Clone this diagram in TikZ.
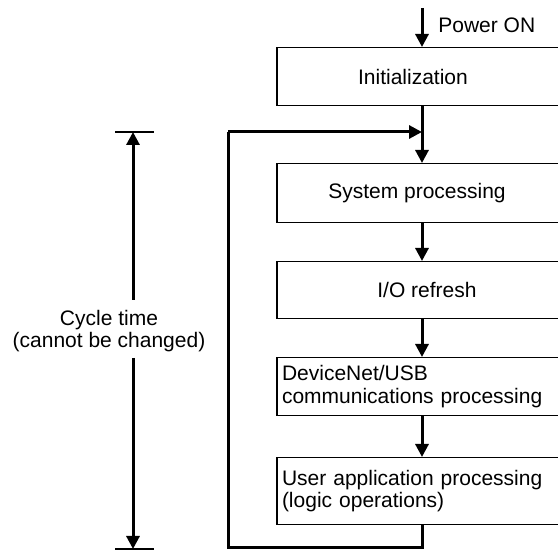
\documentclass[tikz,border=0pt]{standalone}
\usepackage{fontspec}
\setmainfont{Liberation Sans}
\usetikzlibrary{arrows.meta}
\begin{document}
\begin{tikzpicture}[x=0.5pt,y=-0.5pt,
  font=\fontsize{10.5pt}{11.2pt}\selectfont,
  box/.style={draw, line width=0.6pt, minimum width=145pt, inner sep=0pt, anchor=north},
  tbox/.style={box, text width=140pt, align=left, inner xsep=2.5pt},
  arr/.style={line width=1.5pt, -{Triangle[width=6.5pt,length=6.5pt]}},
  loop/.style={line width=1.5pt},
  tick/.style={line width=0.6pt}]
\useasboundingbox (0,0) rectangle (558,550);
% boxes
\node[box, minimum height=29pt] (init) at (422,47) {Initialization\hspace*{9pt}};
\node[box, minimum height=29.5pt] (sys) at (422,163) {System processing\hspace*{5pt}};
\node[box, minimum height=28.5pt] (io) at (422,261) {\hspace*{5pt}I/O refresh};
\node[tbox, minimum height=29pt] (dn) at (422,357) {DeviceNet/USB\\communications processing};
\node[tbox, minimum height=33.5pt] (ua) at (422,457) {User application processing\\(logic operations)};
% power on
\coordinate (pwr) at (422,8);
\draw[arr] (pwr) -- (init.north);
\node[anchor=west, inner sep=0pt] (pwrlbl) at (438,25) {Power ON};
% main flow
\coordinate (j) at (422,132);
\draw[arr] (init.south) -- (sys.north);
\draw[arr] (sys.south) -- (io.north);
\draw[arr] (io.south) -- (dn.north);
\draw[arr] (dn.south) -- (ua.north);
% feedback loop
\coordinate (lb) at (228,548);
\coordinate (lt) at (228,132);
\draw[loop] (ua.south) |- (lb) -- (lt);
\draw[arr] (lt) -- (j);
% cycle time dimension
\coordinate (dt) at (133,132);
\coordinate (db) at (133,549);
\coordinate (gt) at (133,300);
\coordinate (gb) at (133,358);
\draw[tick] (115,132) -- (154,132);
\draw[tick] (115,549) -- (154,549);
\draw[arr] (gt) -- (dt);
\draw[arr] (gb) -- (db);
\node[align=center, inner sep=0pt] (ct) at (109,331) {Cycle time\\(cannot be changed)};
\end{tikzpicture}
\end{document}
